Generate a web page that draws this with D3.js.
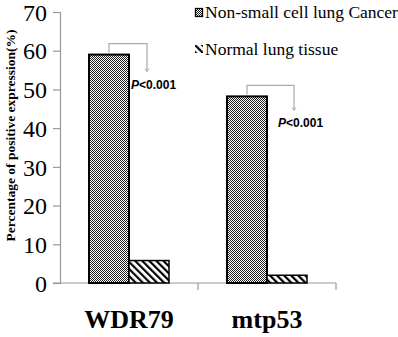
<!DOCTYPE html>
<html lang="en">
<head>
<meta charset="UTF-8">
<style>
  body { margin: 0; background: #fff; }
  svg { display: block; }
</style>
<script src="https://cdnjs.cloudflare.com/ajax/libs/d3/7.8.5/d3.min.js"></script>
</head>
<body>
<div id="wrapper"></div>
<script>
  // DATA
  const categories = ["WDR79", "mtp53"]
  const seriesNames = ["Non-small cell lung Cancer", "Normal lung tissue"]
  const cancerValues = [59, 48.2]
  const normalValues = [5.8, 2]
  const yTicks = [0, 10, 20, 30, 40, 50, 60, 70]
  const pLabels = ["<0.001", "<0.001"]

  const SERIF = "'Liberation Serif', 'Times New Roman', serif"
  const SANS = "'Liberation Sans', Arial, sans-serif"

  const width = 398, height = 337
  const margin = { top: 12, right: 62, bottom: 54, left: 60 }

  const svg = d3.select("#wrapper").append("svg")
    .attr("width", width).attr("height", height)

  const defs = svg.append("defs")
  // checker dots for cancer bars
  const dots = defs.append("pattern").attr("id", "dots")
    .attr("patternUnits", "userSpaceOnUse").attr("width", 2).attr("height", 2)
  dots.append("rect").attr("width", 2).attr("height", 2).attr("fill", "#fff")
  dots.append("rect").attr("width", 1).attr("height", 1).attr("fill", "#222")
  dots.append("rect").attr("x", 1).attr("y", 1).attr("width", 1).attr("height", 1).attr("fill", "#222")
  // diagonal hatch for normal bars
  const hatch = defs.append("pattern").attr("id", "hatch")
    .attr("patternUnits", "userSpaceOnUse").attr("width", 5).attr("height", 5)
    .attr("patternTransform", "rotate(-45)")
  hatch.append("rect").attr("width", 5).attr("height", 5).attr("fill", "#fff")
  hatch.append("rect").attr("width", 2.2).attr("height", 5).attr("fill", "#000")

  const x = d3.scaleBand()
    .domain(categories)
    .range([margin.left, width - margin.right])

  const y = d3.scaleLinear()
    .domain([0, 70])
    .range([height - margin.bottom, margin.top])

  const barW = 40

  // y axis
  const yAxis = svg.append("g")
    .attr("transform", `translate(${margin.left},0)`)
    .call(d3.axisLeft(y).tickValues(yTicks).tickSize(7).tickPadding(6))
  yAxis.attr("font-family", null).attr("font-size", null)
  yAxis.select(".domain").attr("stroke", "#999").attr("stroke-width", 1.2)
  yAxis.selectAll(".tick line").attr("stroke", "#999").attr("stroke-width", 1.2)
  yAxis.selectAll(".tick text")
    .style("font-family", SERIF).style("font-size", "24px")
    .attr("fill", "#000").attr("dy", "0.34em")

  // x axis line and ticks
  const x0 = y(0)
  svg.append("line")
    .attr("x1", margin.left - 7).attr("x2", width - margin.right)
    .attr("y1", x0).attr("y2", x0)
    .attr("stroke", "#999").attr("stroke-width", 1.2)
  const bounds = categories.map(c => x(c) + x.bandwidth())
  svg.selectAll(".xtick").data(bounds).join("line")
    .attr("x1", d => d).attr("x2", d => d)
    .attr("y1", x0).attr("y2", x0 + 7)
    .attr("stroke", "#999").attr("stroke-width", 1.2)

  // bars
  const groups = svg.selectAll(".grp").data(categories).join("g")
  groups.append("rect")
    .attr("x", d => x(d) + x.bandwidth() / 2 - barW)
    .attr("y", (d, i) => y(cancerValues[i]))
    .attr("width", barW)
    .attr("height", (d, i) => y(0) - y(cancerValues[i]))
    .attr("fill", "url(#dots)").attr("stroke", "#000").attr("stroke-width", 2)
  groups.append("rect")
    .attr("x", d => x(d) + x.bandwidth() / 2)
    .attr("y", (d, i) => y(normalValues[i]))
    .attr("width", barW)
    .attr("height", (d, i) => y(0) - y(normalValues[i]))
    .attr("fill", "url(#hatch)").attr("stroke", "#000").attr("stroke-width", 1.5)

  // category labels
  svg.append("g").selectAll("text").data(categories).join("text")
    .attr("x", d => x(d) + x.bandwidth() / 2)
    .attr("y", 328)
    .attr("text-anchor", "middle")
    .style("font-family", SERIF).style("font-weight", "bold").style("font-size", "26px")
    .text(d => d)

  // y axis title
  svg.append("text")
    .attr("transform", `translate(15,${(margin.top + height - margin.bottom) / 2 - 12}) rotate(-90)`)
    .attr("text-anchor", "middle")
    .style("font-family", SERIF).style("font-weight", "bold").style("font-size", "13.5px")
    .text("Percentage of positive expression(%)")

  // significance brackets
  categories.forEach((c, i) => {
    const bx = x(c) + x.bandwidth() / 2 - barW / 2
    const top = y(cancerValues[i])
    const yTop = top - 11
    const ex = bx + (i === 0 ? 38 : 47)
    const ey = top + (i === 0 ? 17 : 14)
    svg.append("path")
      .attr("d", `M${bx},${top - 2}V${yTop}H${ex}V${ey}`)
      .attr("fill", "none").attr("stroke", "#aaa").attr("stroke-width", 1.2)
    svg.append("path")
      .attr("d", `M${ex - 2},${ey - 3}L${ex},${ey}L${ex + 2},${ey - 3}`)
      .attr("fill", "none").attr("stroke", "#aaa").attr("stroke-width", 1)
    const t = svg.append("text")
      .attr("x", ex - 16).attr("y", ey + 17)
      .style("font-family", SANS).style("font-weight", "bold").style("font-size", "12px")
    t.append("tspan").style("font-style", "italic").text("P")
    t.append("tspan").text(pLabels[i])
  })

  // legend
  const legend = svg.append("g")
  legend.append("rect").attr("x", 195.5).attr("y", 8.5).attr("width", 7).attr("height", 8)
    .attr("fill", "url(#dots)").attr("stroke", "#000").attr("stroke-width", 1.3)
  legend.append("rect").attr("x", 195).attr("y", 45).attr("width", 8).attr("height", 8)
    .attr("fill", "url(#hatch)")
  legend.selectAll("text").data(seriesNames).join("text")
    .attr("x", 205)
    .attr("y", (d, i) => 18 + i * 37)
    .style("font-family", SERIF).style("font-size", "17.5px")
    .text(d => d)
</script>
</body>
</html>
